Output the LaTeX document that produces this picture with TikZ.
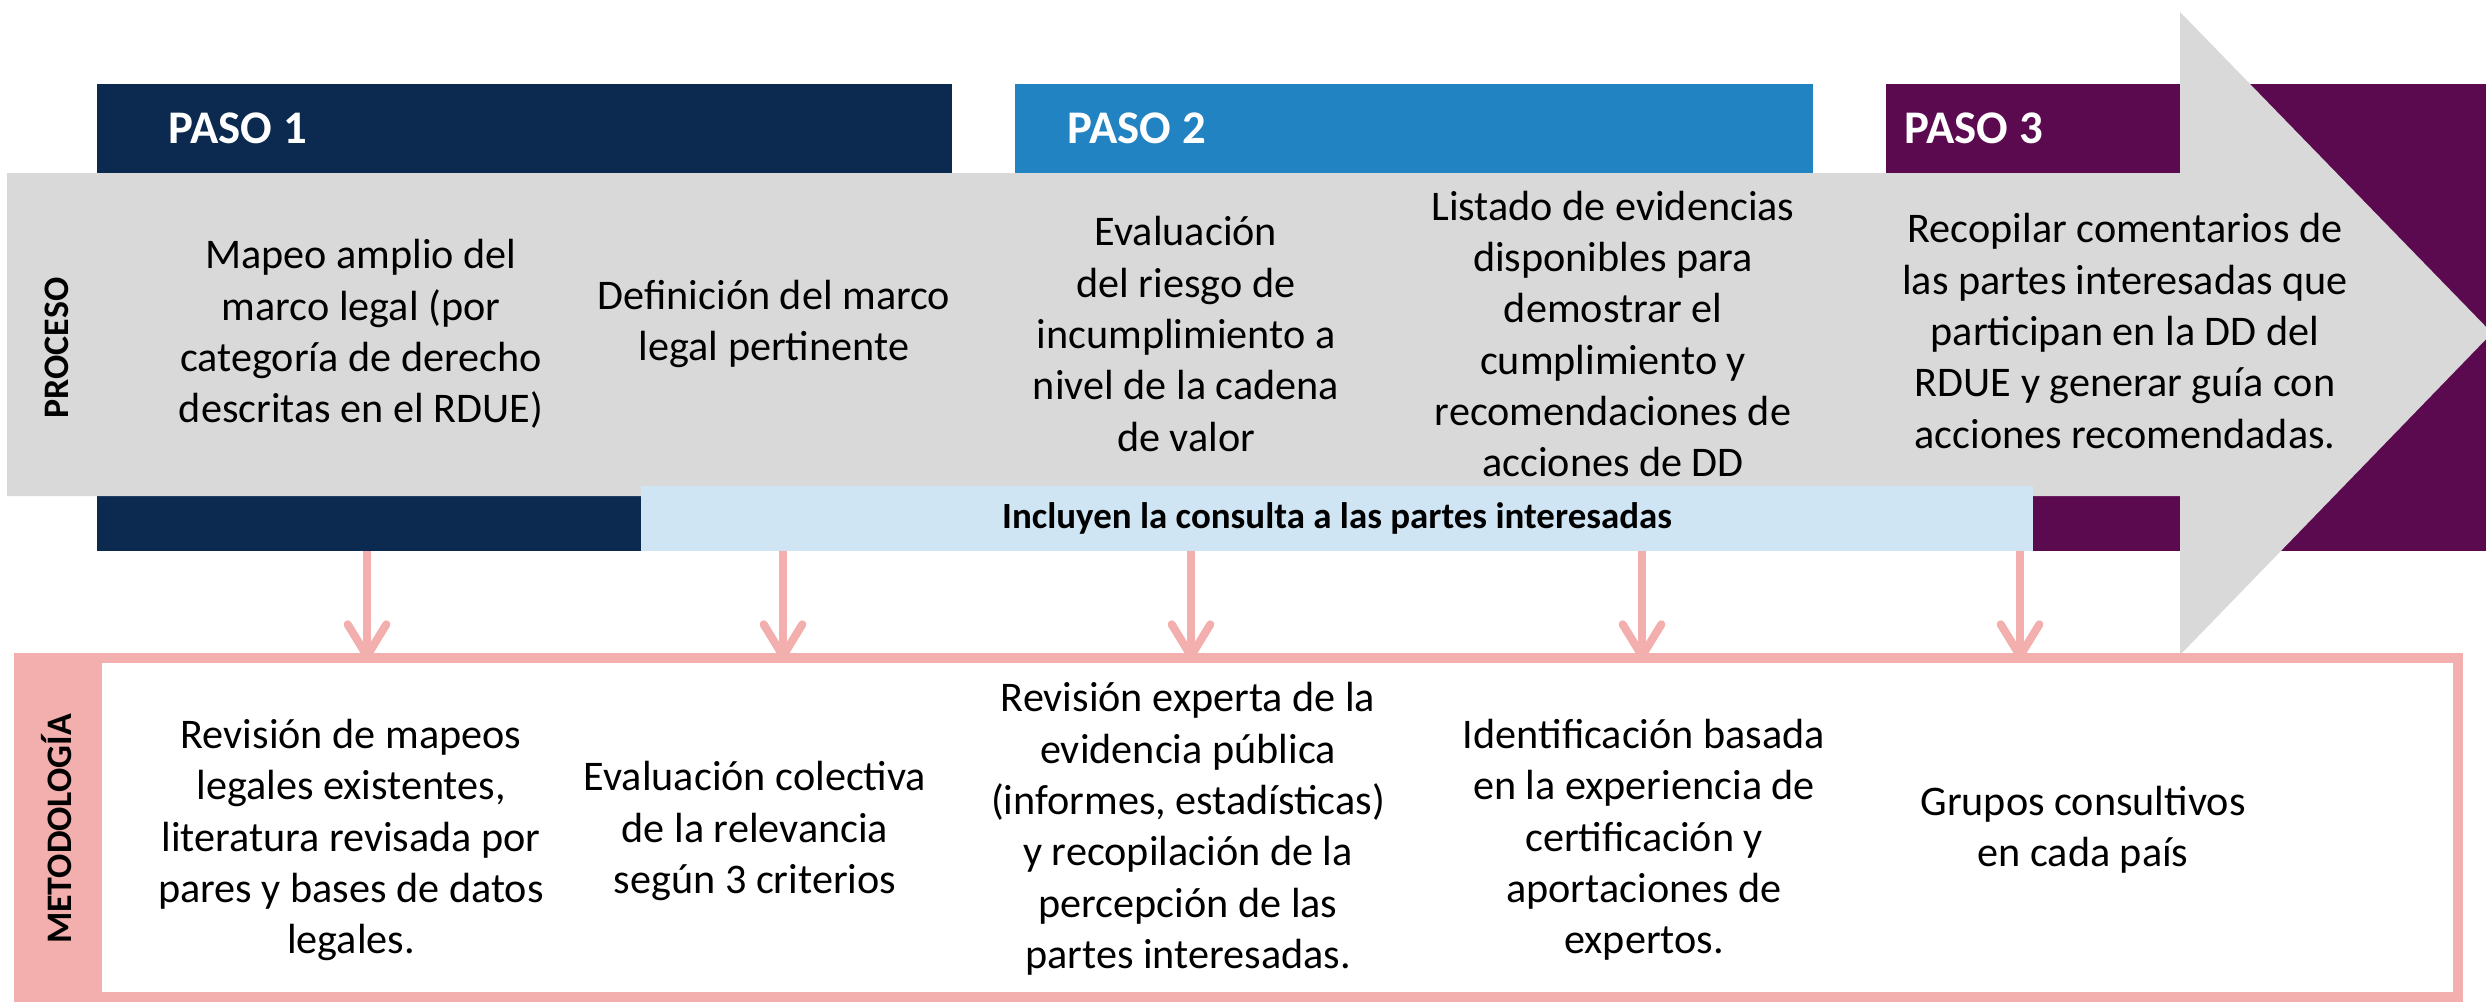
\documentclass[tikz,border=0pt]{standalone}
\usepackage{fontspec}
\setmainfont{Carlito}
\usetikzlibrary{arrows.meta}

\definecolor{pasoone}{HTML}{0C2A50}
\definecolor{pasotwo}{HTML}{2283C2}
\definecolor{pasothree}{HTML}{5C0A4F}
\definecolor{arrowgray}{HTML}{D9D9D9}
\definecolor{consultblue}{HTML}{CFE5F4}
\definecolor{metpink}{HTML}{F2AFAD}

\begin{document}
\begin{tikzpicture}[x=0.01cm,y=-0.01cm,
    paso/.style={font=\fontsize{13.3}{15}\selectfont\bfseries, text=white, anchor=west, inner sep=0pt},
    txt/.style={font=\fontsize{12}{14.6}\selectfont, align=center, inner sep=0pt},
    side/.style={font=\fontsize{10.2}{12}\selectfont\bfseries, rotate=90, inner sep=0pt},
    flow/.style={draw=metpink, line width=2.3pt, -{Straight Barb[length=9pt,width=11pt,round]}}]
  \useasboundingbox (0,0) rectangle (2486,1002);
  \clip (0,0) rectangle (2486,1002);
  % bands of the three steps
  \fill[pasoone] (97,84) rectangle (952,551);
  \fill[pasotwo] (1015,84) rectangle (1813,551);
  \fill[pasothree] (1886,84) rectangle (2486,551);
  % process arrow
  \fill[arrowgray] (7,173) -- (2180,173) -- (2180,12) -- (2492,333)
    -- (2180,655) -- (2180,496) -- (7,496) -- cycle;
  \fill[consultblue] (641,486) rectangle (2033,551);
  % methodology box
  \fill[metpink] (14,653) rectangle (102,1002);
  \draw[metpink, line width=0.1cm] (19,658) rectangle (2458,997);

  \node[paso] (paso1) at (168,128) {PASO 1};
  \node[paso] (paso2) at (1067,128) {PASO 2};
  \node[paso] (paso3) at (1904,128) {PASO 3};
  \node[side] (proceso) at (57,348) {PROCESO};
  \node[side] (metodo) at (57,829) {METODOLOGÍA};
  \node[font=\fontsize{10.5}{12}\selectfont\bfseries, inner sep=0pt] (consulta) at (1337,518)
    {Incluyen la consulta a las partes interesadas};

  \node[txt] (p1) at (361,334) {Mapeo amplio del\\marco legal (por\\categoría de derecho\\descritas en el RDUE)};
  \node[txt] (p2) at (774,324) {Definición del marco\\legal pertinente};
  \node[txt] (p3) at (1186,334) {Evaluación\\del riesgo de\\incumplimiento a\\nivel de la cadena\\de valor};
  \node[txt] (p4) at (1613,334) {Listado de evidencias\\disponibles para\\demostrar el\\cumplimiento y\\recomendaciones de\\acciones de DD};
  \node[txt] (p5) at (2125,331) {Recopilar comentarios de\\las partes interesadas que\\participan en la DD del\\RDUE y generar guía con\\acciones recomendadas.};

  \node[txt] (m1) at (351,840) {Revisión de mapeos\\legales existentes,\\literatura revisada por\\pares y bases de datos\\legales.};
  \node[txt] (m2) at (755,831) {Evaluación colectiva\\de la relevancia\\según 3 criterios};
  \node[txt] (m3) at (1188,829) {Revisión experta de la\\evidencia pública\\(informes, estadísticas)\\y recopilación de la\\percepción de las\\partes interesadas.};
  \node[txt] (m4) at (1644,840) {Identificación basada\\en la experiencia de\\certificación y\\aportaciones de\\expertos.};
  \node[txt] (m5) at (2083,830) {Grupos consultivos\\en cada país};

  \coordinate (s1) at (367,551);  \coordinate (e1) at (367,660);
  \coordinate (s2) at (783,551);  \coordinate (e2) at (783,660);
  \coordinate (s3) at (1191,551); \coordinate (e3) at (1191,660);
  \coordinate (s4) at (1642,551); \coordinate (e4) at (1642,660);
  \coordinate (s5) at (2020,551); \coordinate (e5) at (2020,660);
  \begin{scope}[flow]
    \draw (s1) to (e1);
    \draw (s2) to (e2);
    \draw (s3) to (e3);
    \draw (s4) to (e4);
    \draw (s5) to (e5);
  \end{scope}
\end{tikzpicture}
\end{document}
